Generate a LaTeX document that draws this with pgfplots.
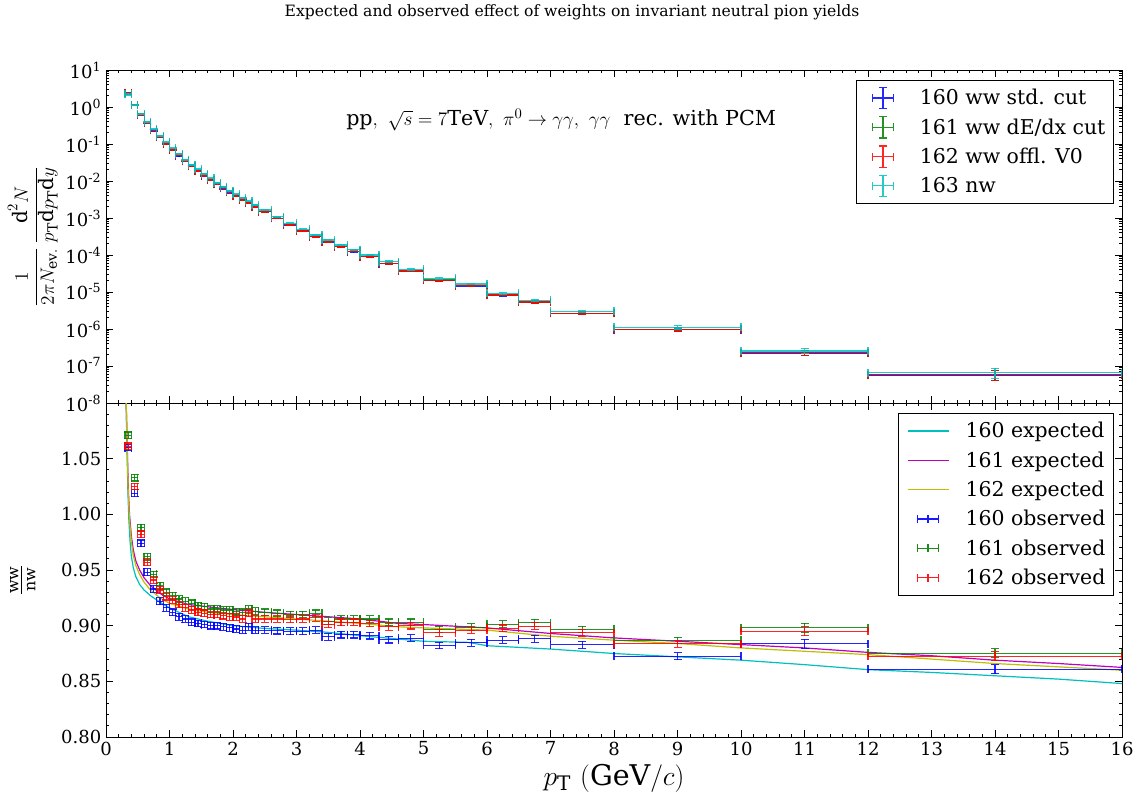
\documentclass[border=0pt]{standalone}
\usepackage{pgfplots}
\pgfplotsset{compat=1.18}
\usepackage{pgfplotstable}
\usepackage{fontspec}
\setmainfont{DejaVu Serif}

\definecolor{cB}{rgb}{0,0,1}
\definecolor{cG}{rgb}{0,0.5,0}
\definecolor{cR}{rgb}{1,0,0}
\definecolor{cC}{rgb}{0,0.75,0.75}
\definecolor{cM}{rgb}{0.75,0,0.75}
\definecolor{cY}{rgb}{0.75,0.75,0}

\pgfplotstableread{
x ex nw y160 y161 y162 ey r160 r161 r162 er
0.35 0.05 2.2 2.332 2.356 2.334 0.06 1.060 1.071 1.061 0.003
0.45 0.05 1.11 1.131 1.147 1.138 0.03 1.019 1.033 1.025 0.003
0.55 0.05 0.634 0.6175 0.6264 0.6226 0.03 0.974 0.988 0.982 0.003
0.65 0.05 0.393 0.3726 0.3781 0.3761 0.03 0.948 0.962 0.957 0.003
0.75 0.05 0.249 0.2323 0.2356 0.2343 0.03 0.933 0.946 0.941 0.003
0.85 0.05 0.164 0.1512 0.1535 0.1528 0.03 0.922 0.936 0.932 0.003
0.95 0.05 0.111 0.1017 0.1032 0.1028 0.03 0.916 0.930 0.926 0.003
1.05 0.05 0.0764 0.0697 0.0708 0.0705 0.03 0.912 0.927 0.923 0.003
1.15 0.05 0.0537 0.04876 0.04962 0.04935 0.03 0.908 0.924 0.919 0.003
1.25 0.05 0.0377 0.03416 0.03476 0.03453 0.03 0.906 0.922 0.916 0.003
1.35 0.05 0.0276 0.02492 0.02539 0.02523 0.03 0.903 0.920 0.914 0.003
1.45 0.05 0.0207 0.01867 0.01900 0.01888 0.03 0.902 0.918 0.912 0.003
1.55 0.05 0.0155 0.01397 0.01421 0.01412 0.03 0.901 0.917 0.911 0.003
1.65 0.05 0.0118 0.01062 0.01080 0.01074 0.03 0.900 0.915 0.910 0.003
1.75 0.05 0.0090 0.00810 0.00824 0.00819 0.03 0.900 0.915 0.910 0.003
1.85 0.05 0.0070 0.00629 0.00640 0.00636 0.03 0.899 0.914 0.909 0.003
1.95 0.05 0.00547 0.00491 0.00500 0.00497 0.03 0.898 0.914 0.908 0.003
2.05 0.05 0.00437 0.00392 0.00399 0.00397 0.03 0.897 0.9125 0.9077 0.003
2.15 0.05 0.00347 0.00311 0.00316 0.00314 0.03 0.896 0.912 0.906 0.003
2.25 0.05 0.00282 0.002535 0.00258 0.002569 0.03 0.899 0.915 0.911 0.003
2.35 0.05 0.00224 0.002007 0.002045 0.002029 0.03 0.896 0.913 0.906 0.003
2.5 0.1 0.00164 0.001469 0.001496 0.001486 0.03 0.896 0.912 0.906 0.003
2.7 0.1 0.00109 0.000976 0.000993 0.000988 0.03 0.8955 0.911 0.906 0.003
2.9 0.1 7.2e-4 6.44e-4 6.55e-4 6.52e-4 0.03 0.895 0.910 0.9057 0.003
3.1 0.1 4.95e-4 4.43e-4 4.50e-4 4.48e-4 0.03 0.895 0.910 0.906 0.003
3.3 0.1 3.47e-4 3.11e-4 3.16e-4 3.15e-4 0.03 0.896 0.911 0.907 0.003
3.5 0.1 2.54e-4 2.26e-4 2.30e-4 2.29e-4 0.03 0.890 0.904 0.901 0.003
3.7 0.1 1.86e-4 1.66e-4 1.685e-4 1.68e-4 0.03 0.892 0.906 0.903 0.003
3.9 0.1 1.39e-4 1.24e-4 1.26e-4 1.255e-4 0.03 0.892 0.906 0.903 0.003
4.15 0.15 1.0e-4 8.91e-5 9.06e-5 9.02e-5 0.04 0.891 0.906 0.902 0.003
4.45 0.15 6.6e-5 5.86e-5 5.96e-5 5.93e-5 0.04 0.8875 0.903 0.899 0.003
4.8 0.2 4.1e-5 3.64e-5 3.70e-5 3.69e-5 0.04 0.8888 0.903 0.900 0.003
5.25 0.25 2.34e-5 2.064e-5 2.098e-5 2.091e-5 0.05 0.8822 0.8966 0.8936 0.003
5.75 0.25 1.64e-5 1.451e-5 1.474e-5 1.469e-5 0.05 0.8846 0.8987 0.8960 0.003
6.25 0.25 9.2e-6 8.16e-6 8.29e-6 8.26e-6 0.05 0.8870 0.9014 0.8976 0.003
6.75 0.25 5.96e-6 5.29e-6 5.38e-6 5.36e-6 0.06 0.8882 0.9026 0.8996 0.003
7.5 0.5 3.0e-6 2.65e-6 2.69e-6 2.68e-6 0.07 0.8828 0.8966 0.8936 0.003
9 1 1.11e-6 9.69e-7 9.84e-7 9.81e-7 0.10 0.8726 0.8867 0.8837 0.003
11 1 2.54e-7 2.245e-7 2.281e-7 2.273e-7 0.15 0.8837 0.8981 0.8950 0.004
14 2 6.6e-8 5.68e-8 5.78e-8 5.76e-8 0.30 0.8609 0.8753 0.8726 0.004
}\data

\pgfplotsset{
  common/.style={
    scale only axis, width=762pt, xmin=0, xmax=16,
    xtick={0,1,...,16}, minor x tick num=4,
    tick align=inside,
    major tick length=5pt, minor tick length=2.5pt,
    every tick/.style={black, line width=0.6pt},
    axis line style={line width=0.75pt},
    ticklabel style={font=\fontsize{13.5}{16}\selectfont},
    /pgf/number format/assume math mode=true,
    legend style={font=\fontsize{15.3}{18}\selectfont, draw=black, line width=0.75pt,
      fill=white, at={(0.992,0.97)}, anchor=north east, cells={anchor=west},
      row sep=4.9pt, inner xsep=4pt, inner ysep=4.5pt},
  },
  ebar/.style={forget plot, draw=none, mark=none,
    error bars/.cd, x dir=both, x explicit, y dir=both,
    error bar style={draw=#1, line width=0.9pt, opacity=0.85},
    error mark options={draw=#1, rotate=90, mark size=3pt, line width=0.9pt, opacity=0.85}},
}

\newcommand{\crossimg}[1]{\addlegendimage{legend image code/.code={
  \path (0pt,0pt) (40.75pt,0pt);
  \draw[draw=#1, line width=0.9pt, opacity=0.85] (7.5pt,0pt)--(23.5pt,0pt) (15.5pt,-8pt)--(15.5pt,8pt)
     (7.5pt,-3pt)--(7.5pt,3pt) (23.5pt,-3pt)--(23.5pt,3pt) (12.5pt,8pt)--(18.5pt,8pt) (12.5pt,-8pt)--(18.5pt,-8pt);}}}
\newcommand{\obsimg}[1]{\addlegendimage{legend image code/.code={
  \path (0pt,0pt) (44pt,0pt);
  \draw[draw=#1, line width=1pt, opacity=0.9] (10pt,0pt)--(26pt,0pt)
     (10pt,-3pt)--(10pt,3pt) (18pt,-3pt)--(18pt,3pt) (26pt,-3pt)--(26pt,3pt);}}}
\newcommand{\lineimg}[1]{\addlegendimage{legend image code/.code={
  \path (0pt,0pt) (44pt,0pt);
  \draw[draw=#1, line width=1.15pt] (3pt,0pt)--(34pt,0pt);}}}

\begin{document}
\begin{tikzpicture}
\useasboundingbox (0,0) rectangle (858.75pt,600pt);
\node[font=\fontsize{11.7}{14}\selectfont] at (429pt,591pt)
  {Expected and observed effect of weights on invariant neutral pion yields};

% ---------- top panel ----------
\begin{axis}[common,
  at={(79.5pt,297.75pt)}, anchor=south west, height=249.75pt,
  ymode=log, ymin=1e-8, ymax=10,
  ytick={1e-8,1e-7,1e-6,1e-5,1e-4,1e-3,1e-2,1e-1,1,10},
  yticklabels={10\textsuperscript{-8},10\textsuperscript{-7},10\textsuperscript{-6},10\textsuperscript{-5},10\textsuperscript{-4},10\textsuperscript{-3},10\textsuperscript{-2},10\textsuperscript{-1},10\textsuperscript{0},10\textsuperscript{1}},
  xticklabels={},
  ylabel={$\displaystyle\frac{1}{2\pi N_{\mathrm{ev.}}}\,\frac{\mathrm{d}^2N}{p_{\mathrm{T}}\mathrm{d}p_{\mathrm{T}}\mathrm{d}y}$},
  ylabel style={font=\fontsize{15}{18}\selectfont, at={(axis description cs:-0.072,0.5)}, anchor=center},
]
\crossimg{cB}\addlegendentry{160 ww std. cut}
\crossimg{cG}\addlegendentry{161 ww dE/dx cut}
\crossimg{cR}\addlegendentry{162 ww offl. V0}
\crossimg{cC}\addlegendentry{163 nw}
\addplot[error bars/y explicit relative, ebar=cB] table[x=x, y=y160, x error=ex, y error=ey] {\data};
\addplot[error bars/y explicit relative, ebar=cG] table[x=x, y=y161, x error=ex, y error=ey] {\data};
\addplot[error bars/y explicit relative, ebar=cR] table[x=x, y=y162, x error=ex, y error=ey] {\data};
\addplot[error bars/y explicit relative, ebar=cC] table[x=x, y=nw, x error=ex, y error=ey] {\data};
\node[font=\fontsize{15.5}{18}\selectfont] at (rel axis cs:0.448,0.85)
  {$\mathrm{pp},\ \sqrt{s}=7\mathrm{TeV},\ \pi^0\rightarrow\gamma\gamma,\ \gamma\gamma$\ \ rec. with PCM};
\end{axis}

% ---------- bottom panel ----------
\begin{axis}[common,
  at={(79.5pt,47.25pt)}, anchor=south west, height=250.5pt,
  ymin=0.80, ymax=1.10,
  ytick={0.80,0.85,0.90,0.95,1.00,1.05,1.10},
  yticklabels={0.80,0.85,0.90,0.95,1.00,1.05,},
  minor y tick num=4,
  xlabel={$p_{\mathrm{T}}\ (\mathrm{GeV}/c)$},
  xlabel style={font=\fontsize{21.4}{24}\selectfont, at={(axis description cs:0.5,-0.144)}, anchor=base},
  ylabel={$\frac{\mathrm{ww}}{\mathrm{nw}}$},
  ylabel style={font=\fontsize{17}{20}\selectfont, at={(axis description cs:-0.082,0.47)}, anchor=center},
]
\lineimg{cC}\addlegendentry{160 expected}
\lineimg{cM}\addlegendentry{161 expected}
\lineimg{cY}\addlegendentry{162 expected}
\obsimg{cB}\addlegendentry{160 observed}
\obsimg{cG}\addlegendentry{161 observed}
\obsimg{cR}\addlegendentry{162 observed}

\addplot[forget plot, cC, line width=0.9pt] coordinates {
(0.318,1.10) (0.33,1.06) (0.345,1.02) (0.36,0.995) (0.38,0.975) (0.40,0.962) (0.43,0.952) (0.47,0.944)
(0.53,0.937) (0.6,0.932) (0.7,0.927) (0.85,0.921) (1.0,0.916) (1.3,0.908) (1.6,0.904) (2.0,0.900)
(2.5,0.8975) (3.0,0.896) (3.5,0.894) (4.0,0.891) (4.6,0.888) (5.0,0.886) (5.7,0.885) (6.0,0.882)
(7.0,0.879) (8.0,0.875) (9.0,0.872) (10.0,0.869) (11.0,0.865) (12.0,0.8605) (13.0,0.858) (14.0,0.855)
(15.0,0.852) (16.0,0.848)};
\addplot[forget plot, cM, line width=0.9pt] coordinates {
(0.318,1.10) (0.335,1.06) (0.35,1.025) (0.37,1.0) (0.40,0.98) (0.43,0.968) (0.47,0.958) (0.53,0.950)
(0.6,0.943) (0.7,0.936) (0.85,0.929) (1.0,0.924) (1.3,0.919) (1.6,0.917) (2.0,0.9145) (2.5,0.912)
(3.0,0.910) (3.5,0.908) (4.0,0.906) (4.6,0.902) (5.0,0.901) (6.0,0.898) (7.0,0.893) (8.0,0.889)
(9.0,0.886) (10.0,0.883) (11.0,0.880) (12.0,0.876) (13.0,0.873) (14.0,0.869) (15.0,0.866) (16.0,0.8625)};
\addplot[forget plot, cY, line width=0.9pt] coordinates {
(0.318,1.10) (0.335,1.055) (0.35,1.02) (0.37,0.995) (0.40,0.975) (0.43,0.963) (0.47,0.954) (0.53,0.946)
(0.6,0.939) (0.7,0.932) (0.85,0.925) (1.0,0.920) (1.3,0.915) (1.6,0.912) (2.0,0.910) (2.5,0.908)
(3.0,0.906) (3.5,0.904) (4.0,0.902) (4.6,0.899) (5.0,0.898) (6.0,0.896) (7.0,0.8905) (8.0,0.887)
(9.0,0.884) (10.0,0.880) (11.0,0.877) (12.0,0.874) (13.0,0.870) (14.0,0.866) (15.0,0.863) (16.0,0.860)};

\addplot[error bars/y explicit, ebar=cB] table[x=x, y=r160, x error=ex, y error=er] {\data};
\addplot[error bars/y explicit, ebar=cG] table[x=x, y=r161, x error=ex, y error=er] {\data};
\addplot[error bars/y explicit, ebar=cR] table[x=x, y=r162, x error=ex, y error=er] {\data};
\end{axis}
\end{tikzpicture}
\end{document}
